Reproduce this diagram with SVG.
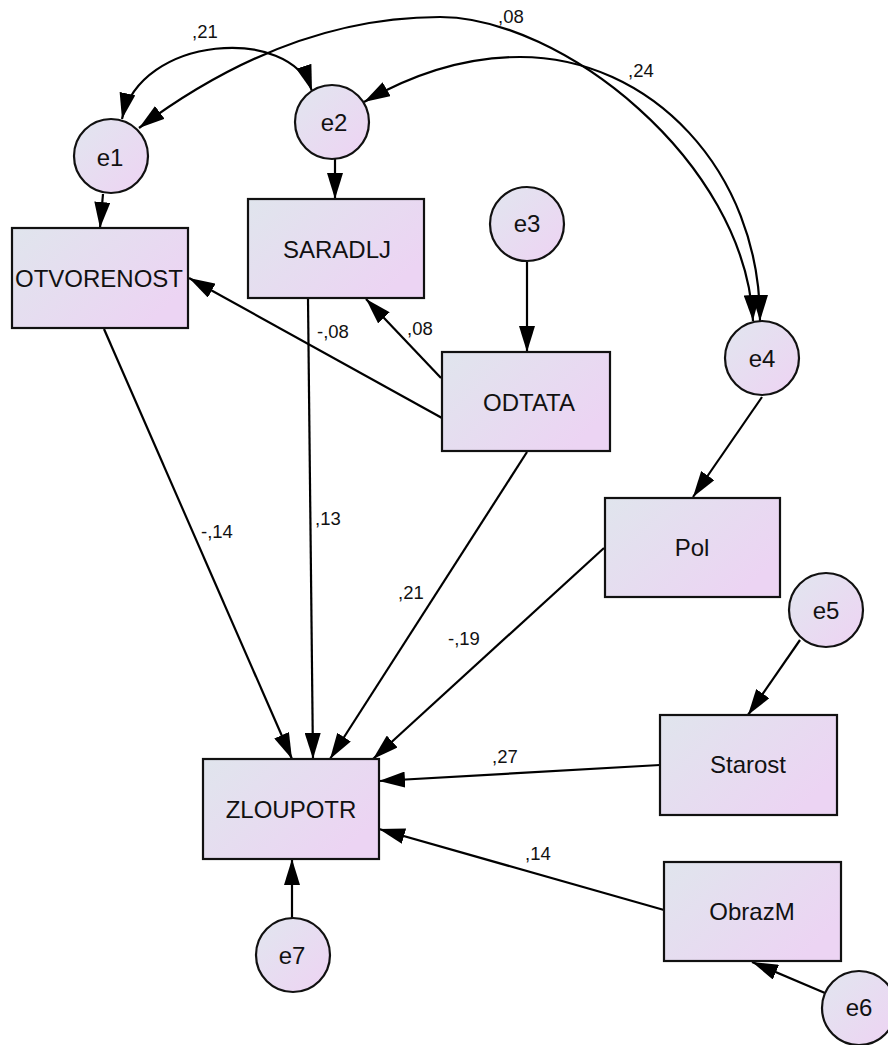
<svg xmlns="http://www.w3.org/2000/svg" width="888" height="1045" viewBox="0 0 888 1045">
<style>
.box{fill:url(#gb);stroke:#111;stroke-width:2.2}
.cir{fill:url(#gc);stroke:#111;stroke-width:2.2}
.t{font-family:"Liberation Sans",Arial,sans-serif;font-size:24px;fill:#111;text-anchor:middle}
.lb{font-family:"Liberation Sans",Arial,sans-serif;font-size:18.5px;fill:#111}
.c{fill:none;stroke:#000;stroke-width:2.2;marker-end:url(#ah)}
.d{fill:none;stroke:#000;stroke-width:2.2;marker-end:url(#ah);marker-start:url(#ah)}
</style>
<defs>
<linearGradient id="gb" x1="0" y1="0" x2="1" y2="0.6">
<stop offset="0" stop-color="#e0e5ed"/>
<stop offset="1" stop-color="#ecd4f3"/>
</linearGradient>
<linearGradient id="gc" x1="0" y1="0" x2="1" y2="1">
<stop offset="0" stop-color="#e1e6ef"/>
<stop offset="1" stop-color="#eed3f3"/>
</linearGradient>
<marker id="ah" markerUnits="userSpaceOnUse" markerWidth="26" markerHeight="16" refX="26" refY="8" orient="auto-start-reverse" viewBox="0 0 26 16">
<path d="M0,0 L26,8 L0,16 z" fill="#000"/>
</marker>
</defs>
<rect width="888" height="1045" fill="#fff"/>

<g id="connectors">
<path class="d" d="M122,119 C140,35 290,25 312,91"/>
<path class="d" d="M139,128 C230,60 330,17 440,17 C560,17 745,160 753,321"/>
<path class="d" d="M364,102 C420,70 470,57 520,57 C650,57 760,170 760,321"/>
<line class="c" x1="103" y1="194" x2="100" y2="228"/>
<line class="c" x1="335" y1="159" x2="335" y2="199"/>
<line class="c" x1="527" y1="262" x2="527" y2="352"/>
<line class="c" x1="762" y1="397" x2="693" y2="497"/>
<line class="c" x1="800" y1="640" x2="748" y2="715"/>
<line class="c" x1="825" y1="993" x2="752" y2="962"/>
<line class="c" x1="292" y1="918" x2="292" y2="859"/>
<line class="c" x1="442" y1="418" x2="189" y2="278"/>
<line class="c" x1="441" y1="378" x2="366" y2="299"/>
<line class="c" x1="104" y1="329" x2="292" y2="759"/>
<line class="c" x1="308" y1="299" x2="313" y2="759"/>
<line class="c" x1="527" y1="452" x2="330" y2="759"/>
<line class="c" x1="604" y1="548" x2="373" y2="759"/>
<line class="c" x1="660" y1="765" x2="379" y2="781"/>
<line class="c" x1="664" y1="910" x2="379" y2="829"/>
<text class="lb" x="192" y="38">,21</text>
<text class="lb" x="498" y="23">,08</text>
<text class="lb" x="628" y="77">,24</text>
<text class="lb" x="407" y="335">,08</text>
<text class="lb" x="317" y="338">-,08</text>
<text class="lb" x="201" y="538">-,14</text>
<text class="lb" x="315" y="525">,13</text>
<text class="lb" x="398" y="599">,21</text>
<text class="lb" x="448" y="645">-,19</text>
<text class="lb" x="492" y="763">,27</text>
<text class="lb" x="525" y="860">,14</text>
</g>

<g id="e1"><circle class="cir" cx="111" cy="156" r="37"/><text class="t" x="110" y="166">e1</text></g>
<g id="e2"><circle class="cir" cx="332" cy="122" r="37"/><text class="t" x="334" y="131">e2</text></g>
<g id="e3"><circle class="cir" cx="527" cy="224" r="37"/><text class="t" x="527" y="232">e3</text></g>
<g id="e4"><circle class="cir" cx="762" cy="358" r="37"/><text class="t" x="762" y="367">e4</text></g>
<g id="e5"><circle class="cir" cx="826" cy="610" r="37"/><text class="t" x="826" y="619">e5</text></g>
<g id="e6"><circle class="cir" cx="859" cy="1008" r="37"/><text class="t" x="859" y="1016">e6</text></g>
<g id="e7"><circle class="cir" cx="293" cy="955" r="37"/><text class="t" x="292" y="964">e7</text></g>

<g id="OTVORENOST"><rect class="box" x="12" y="228" width="176" height="100"/><text class="t" x="99" y="287">OTVORENOST</text></g>
<g id="SARADLJ"><rect class="box" x="248" y="199" width="176" height="99"/><text class="t" x="337" y="258">SARADLJ</text></g>
<g id="ODTATA"><rect class="box" x="442" y="352" width="168" height="99"/><text class="t" x="529" y="411">ODTATA</text></g>
<g id="Pol"><rect class="box" x="605" y="498" width="175" height="99"/><text class="t" x="692" y="556">Pol</text></g>
<g id="Starost"><rect class="box" x="660" y="715" width="177" height="100"/><text class="t" x="748" y="773">Starost</text></g>
<g id="ObrazM"><rect class="box" x="664" y="862" width="177" height="99"/><text class="t" x="752" y="920">ObrazM</text></g>
<g id="ZLOUPOTR"><rect class="box" x="203" y="759" width="176" height="100"/><text class="t" x="291" y="818">ZLOUPOTR</text></g>
</svg>
